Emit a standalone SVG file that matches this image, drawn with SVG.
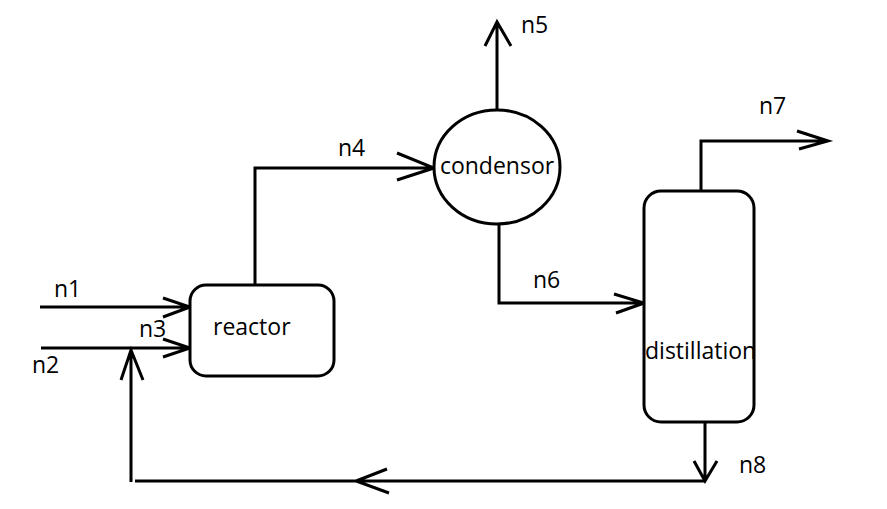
<svg xmlns="http://www.w3.org/2000/svg" width="887" height="509" viewBox="0 0 887 509">
<style>
.ln{fill:none;stroke:#000;stroke-width:3;stroke-linejoin:miter;stroke-linecap:butt}
.nd{fill:#fff;stroke:#000;stroke-width:3}
.t{font-family:"Open Sans","Noto Sans",sans-serif;font-size:23px;fill:#000}
</style>
<rect width="887" height="509" fill="#fff"/>
<g id="connectors">
  <!-- n1 -->
  <path class="ln" d="M40,307 H190 M163,298 L190,307 L163,317"/>
  <!-- n2 / n3 -->
  <path class="ln" d="M41,348 H190 M163,339 L190,348 L163,357"/>
  <!-- n4 -->
  <path class="ln" d="M255,285 V168 H434 M397,153 L434,168 L397,180"/>
  <!-- n5 -->
  <path class="ln" d="M497,110 V22 M485,46 L497,22 L511,46"/>
  <!-- n6 -->
  <path class="ln" d="M499,224 V303 H644 M614,294 L644,303 L616,313"/>
  <!-- n7 -->
  <path class="ln" d="M701,191 V141 H828 M797,131 L828,141 L799,149"/>
  <!-- n8 -->
  <path class="ln" d="M705,422 V481 M694,461 L705,481 L717,461"/>
  <!-- recycle -->
  <path class="ln" d="M705,481 H135 M387,469 L356,481 L389,493"/>
  <path class="ln" d="M131,482 V350 M121,380 L131,350 L143,380"/>
</g>
<g id="reactor">
  <rect class="nd" x="190" y="285" width="144" height="91" rx="16"/>
  <text class="t" x="213" y="335">reactor</text>
</g>
<g id="condensor">
  <ellipse class="nd" cx="497" cy="167" rx="63" ry="57"/>
  <text class="t" x="497" y="174" text-anchor="middle">condensor</text>
</g>
<g id="distillation">
  <rect class="nd" x="644" y="191" width="110" height="231" rx="17"/>
  <text class="t" x="645" y="359">distillation</text>
</g>
<g id="labels">
  <text class="t" x="54" y="297">n1</text>
  <text class="t" x="32" y="373">n2</text>
  <text class="t" x="139" y="337">n3</text>
  <text class="t" x="338" y="156">n4</text>
  <text class="t" x="521" y="33">n5</text>
  <text class="t" x="533" y="288">n6</text>
  <text class="t" x="759" y="114">n7</text>
  <text class="t" x="739" y="473">n8</text>
</g>
</svg>
